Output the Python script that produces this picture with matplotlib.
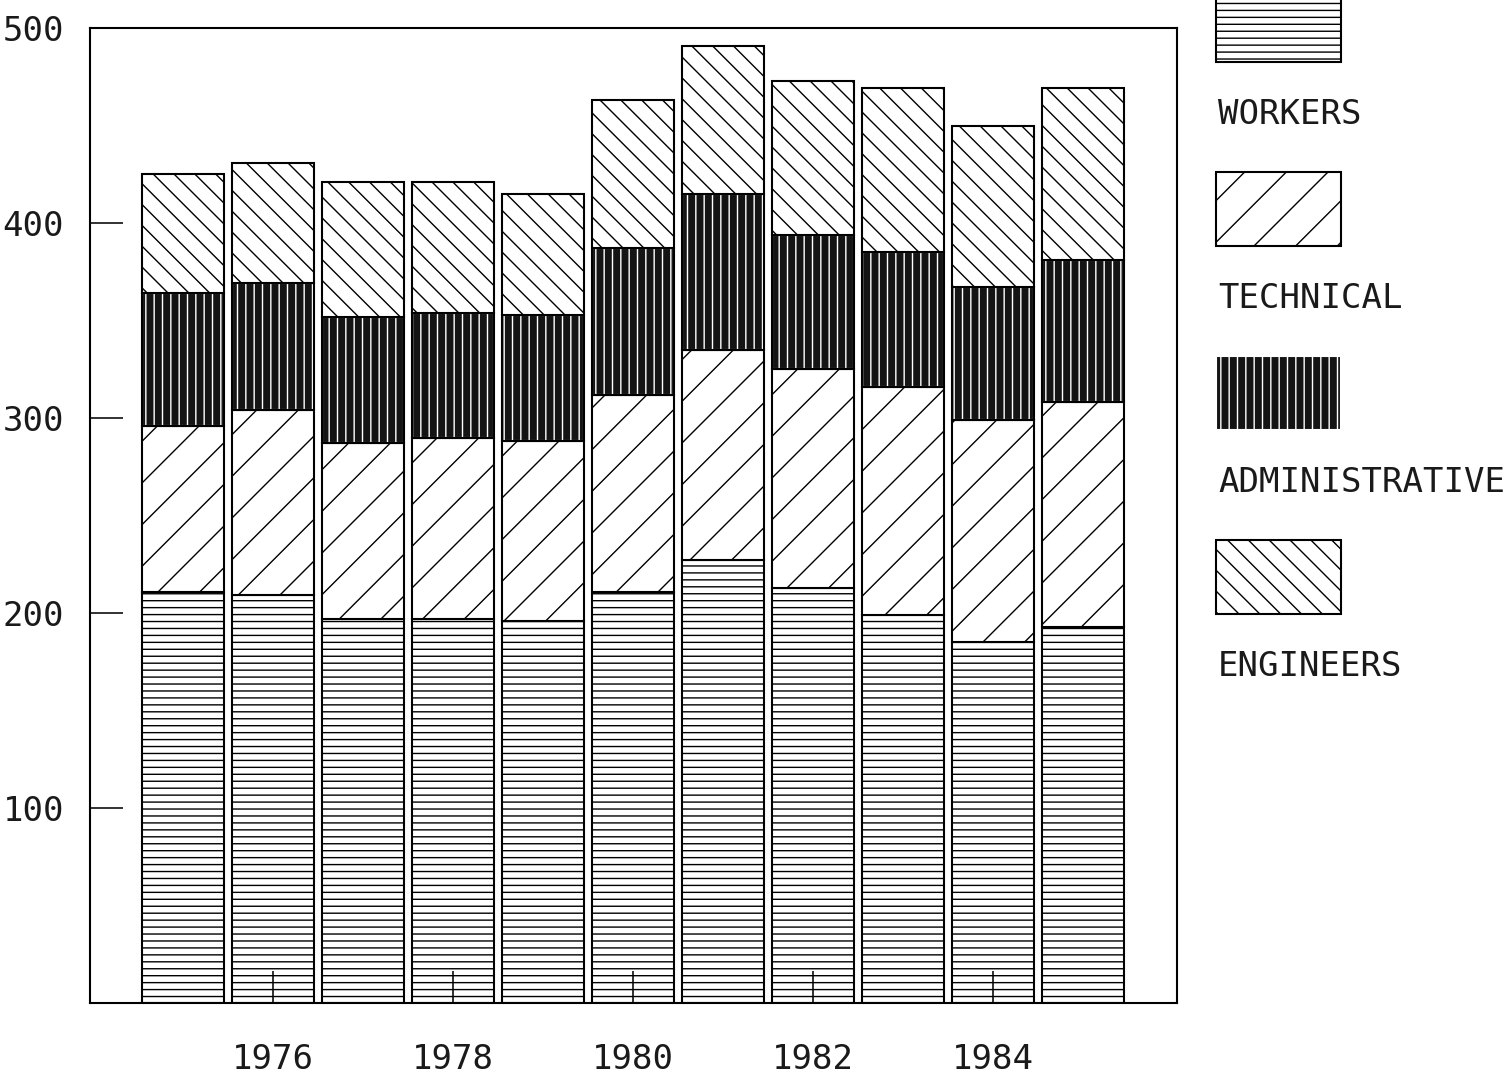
import numpy as np
import matplotlib
matplotlib.use("Agg")
import matplotlib.pyplot as plt
from matplotlib.patches import Rectangle

years = [1975, 1976, 1977, 1978, 1979, 1980, 1981, 1982, 1983, 1984, 1985]
workers = [211, 209, 197, 197, 196, 211, 227, 213, 199, 185, 193]
technical = [85, 95, 90, 93, 92, 101, 108, 112, 117, 114, 115]
administrative = [68, 65, 65, 64, 65, 75, 80, 69, 69, 68, 73]
engineers = [61, 62, 69, 67, 62, 76, 76, 79, 84, 83, 88]
labels = ["WORKERS", "TECHNICAL", "ADMINISTRATIVE", "ENGINEERS"]
year_ticks = [1976, 1978, 1980, 1982, 1984]
y_ticks = [100, 200, 300, 400, 500]

# high dpi + small figure so the hatch tile (1 inch) is 250 px wide
DPI = 250
W, H = 1512, 1074
plt.rcParams["font.family"] = ["DejaVu Sans Mono", "DejaVu Sans"]
plt.rcParams["hatch.linewidth"] = 0.4

fig = plt.figure(figsize=(W / DPI, H / DPI), dpi=DPI)
ax = fig.add_axes([90 / W, 71 / H, 1087 / W, 975 / H])

bs = chr(92)  # backslash
styles = [
    dict(hatch="------", facecolor="white", edgecolor="black"),
    dict(hatch="//", facecolor="white", edgecolor="black"),
    dict(hatch="|||||", facecolor="#141414", edgecolor="white"),
    dict(hatch=bs * 4, facecolor="white", edgecolor="black"),
]
series = [workers, technical, administrative, engineers]

bottom = np.zeros(len(years))
for vals, st in zip(series, styles):
    ax.bar(years, vals, width=0.92, bottom=bottom, linewidth=0.6, **st)
    if st["edgecolor"] != "black":
        ax.bar(years, vals, width=0.92, bottom=bottom, fill=False,
               edgecolor="black", linewidth=0.6)
    bottom += np.array(vals)

ax.set_xlim(1973.967, 1986.044)
ax.set_ylim(0, 500)
ax.set_xticks(year_ticks)
ax.set_yticks(y_ticks)
ax.tick_params(axis="both", direction="in", width=0.45, labelsize=9.8,
               labelcolor="#1a1a1a")
ax.tick_params(axis="x", length=9.2, pad=11.5)
ax.tick_params(axis="y", length=9.5, pad=7.5)
for sp in ax.spines.values():
    sp.set_linewidth(0.6)

# legend: swatch with the label underneath
for i, (lab, st) in enumerate(zip(labels, styles)):
    ybot = 62 + 184 * i
    rect = Rectangle((1216 / W, 1 - ybot / H), 125 / W, 74 / H,
                     transform=fig.transFigure, linewidth=0.6, **st)
    fig.add_artist(rect)
    fig.text(1218 / W, 1 - (ybot + 52) / H, lab, fontsize=9.8,
             color="#1a1a1a", va="center", ha="left")

fig.savefig("out.png", dpi=DPI)
